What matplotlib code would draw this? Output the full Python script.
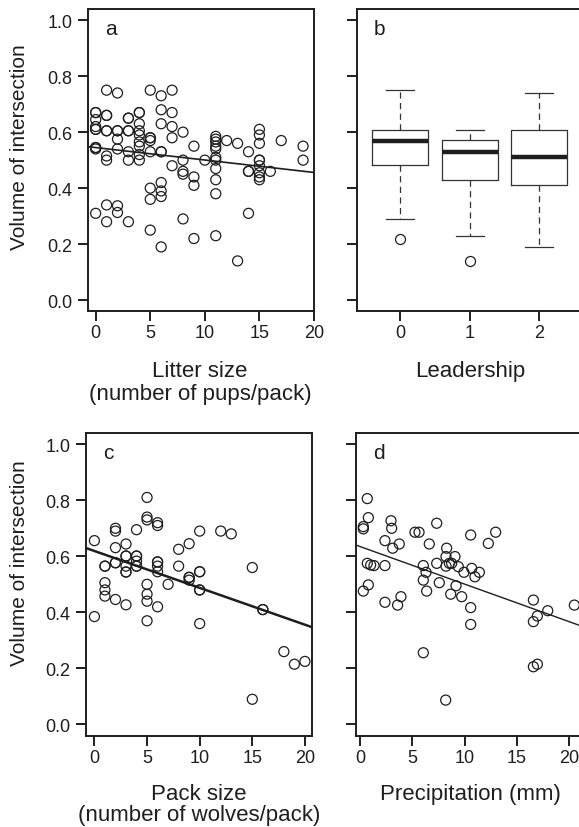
import matplotlib
matplotlib.use('Agg')
import matplotlib.pyplot as plt

plt.rcParams['font.family'] = ['Liberation Sans', 'DejaVu Sans']

# panel a: litter size vs volume of intersection
litter_x = [0, 0, 0, 0, 0, 0, 0, 0, 0, 0,
            1, 1, 1, 1, 1, 1, 1, 1, 1,
            2, 2, 2, 2, 2, 2, 2,
            3, 3, 3, 3, 3, 3, 3,
            4, 4, 4, 4, 4, 4, 4, 4, 4,
            5, 5, 5, 5, 5, 5, 5, 5,
            6, 6, 6, 6, 6, 6, 6, 6, 6,
            7, 7, 7, 7, 7,
            8, 8, 8, 8, 8,
            9, 9, 9, 9,
            10,
            11, 11, 11, 11, 11, 11, 11, 11, 11, 11, 11,
            12,
            13, 13,
            14, 14, 14, 14,
            15, 15, 15, 15, 15, 15, 15, 15, 15,
            16, 17, 19, 19]
litter_y = [0.67, 0.67, 0.645, 0.62, 0.61, 0.61, 0.545, 0.545, 0.54, 0.31,
            0.75, 0.66, 0.66, 0.605, 0.605, 0.515, 0.50, 0.34, 0.28,
            0.74, 0.605, 0.605, 0.575, 0.54, 0.337, 0.313,
            0.65, 0.65, 0.605, 0.605, 0.53, 0.50, 0.28,
            0.67, 0.67, 0.63, 0.605, 0.59, 0.565, 0.55, 0.52, 0.50,
            0.75, 0.58, 0.58, 0.57, 0.53, 0.40, 0.36, 0.25,
            0.73, 0.68, 0.63, 0.53, 0.53, 0.42, 0.39, 0.37, 0.19,
            0.75, 0.67, 0.62, 0.58, 0.48,
            0.60, 0.50, 0.46, 0.45, 0.29,
            0.55, 0.44, 0.41, 0.22,
            0.50,
            0.585, 0.575, 0.565, 0.55, 0.54, 0.51, 0.50, 0.47, 0.43, 0.38, 0.23,
            0.57,
            0.56, 0.14,
            0.53, 0.46, 0.46, 0.31,
            0.61, 0.59, 0.56, 0.50, 0.50, 0.48, 0.455, 0.44, 0.43,
            0.46, 0.57, 0.55, 0.50]
litter_fit = (0.545, -0.00445)

# panel b: leadership boxplots
lead_labels = ['0', '1', '2']
lead_whislo = [0.289, 0.229, 0.189]
lead_q1 = [0.482, 0.429, 0.411]
lead_med = [0.569, 0.530, 0.511]
lead_q3 = [0.608, 0.573, 0.608]
lead_whishi = [0.749, 0.608, 0.739]
lead_fliers = [[0.220], [0.140], []]

# panel c: pack size
pack_x = [0, 0,
          1, 1, 1, 1, 1,
          2, 2, 2, 2, 2, 2,
          3, 3, 3, 3, 3, 3, 3,
          4, 4, 4, 4, 4, 4,
          5, 5, 5, 5, 5, 5, 5,
          6, 6, 6, 6, 6, 6, 6,
          7, 8, 8,
          9, 9, 9, 9,
          10, 10, 10, 10, 10, 10,
          12, 13, 15, 15, 16, 16, 18, 19, 20]
pack_y = [0.656, 0.385,
          0.565, 0.565, 0.506, 0.48, 0.458,
          0.70, 0.69, 0.631, 0.577, 0.577, 0.446,
          0.644, 0.601, 0.601, 0.565, 0.544, 0.544, 0.427,
          0.695, 0.601, 0.601, 0.583, 0.565, 0.565,
          0.81, 0.74, 0.73, 0.50, 0.465, 0.44, 0.37,
          0.72, 0.71, 0.58, 0.58, 0.565, 0.545, 0.42,
          0.50, 0.625, 0.565,
          0.645, 0.525, 0.525, 0.515,
          0.69, 0.545, 0.545, 0.48, 0.48, 0.36,
          0.69, 0.68, 0.56, 0.09, 0.41, 0.41, 0.26, 0.215, 0.225]
pack_fit = (0.619, -0.01315)

# panel d: precipitation
prec_x = [0.70, 0.80, 0.32, 0.32, 2.39, 2.97, 3.03, 3.13, 3.76, 0.70,
          1.02, 1.34, 2.39, 0.80, 0.32, 2.39, 3.60, 3.92, 5.26, 5.65,
          6.63, 7.34, 6.06, 6.32, 6.06, 6.38, 6.06, 7.34, 7.59, 8.29,
          8.23, 9.09, 8.55, 8.23, 8.77, 9.41, 8.68, 9.19, 9.73, 10.59,
          9.95, 10.69, 11.42, 11.00, 10.59, 10.59, 12.28, 12.98, 8.20, 16.59,
          16.97, 16.59, 17.96, 20.51, 16.59, 16.97]
prec_y = [0.806, 0.738, 0.706, 0.698, 0.656, 0.727, 0.700, 0.629, 0.644, 0.575,
          0.569, 0.567, 0.567, 0.498, 0.476, 0.436, 0.426, 0.456, 0.686, 0.686,
          0.644, 0.718, 0.567, 0.543, 0.515, 0.476, 0.256, 0.575, 0.506, 0.629,
          0.599, 0.599, 0.575, 0.565, 0.575, 0.563, 0.465, 0.495, 0.456, 0.676,
          0.543, 0.557, 0.543, 0.527, 0.417, 0.357, 0.646, 0.686, 0.087, 0.444,
          0.387, 0.367, 0.406, 0.426, 0.206, 0.215]
prec_fit = (0.635, -0.0134)

W, H = 579, 828
INK = '#1e1e1e'
fig = plt.figure(figsize=(W / 100, H / 100), dpi=100)


def add_axes(l, t, r, b):
    return fig.add_axes([l / W, 1 - b / H, (r - l) / W, (b - t) / H])


def style(ax, letter, ylabels):
    for s in ax.spines.values():
        s.set_linewidth(1.4)
        s.set_color(INK)
    ax.tick_params(direction='out', length=7, width=1.4, color=INK,
                   labelsize=13, labelcolor=INK)
    ax.tick_params(axis='x', pad=2.5)
    ax.tick_params(axis='y', pad=4)
    ax.set_ylim(-0.04, 1.04)
    ax.set_yticks([0, 0.2, 0.4, 0.6, 0.8, 1.0])
    if ylabels:
        ax.set_yticklabels(['0.0', '0.2', '0.4', '0.6', '0.8', '1.0'])
    else:
        ax.set_yticklabels([])
    ax.text(0.075, 0.935, letter, transform=ax.transAxes, fontsize=15,
            ha='left', va='center', color=INK)


def scatter(ax, x, y, fit, lw):
    ax.scatter(x, y, s=52, facecolors='none', edgecolors=INK, linewidths=0.9,
               zorder=3)
    ax.axline((0, fit[0]), slope=fit[1], color=INK, lw=lw, zorder=2)


def ftext(x, y, s, **kw):
    fig.text(x / W, 1 - y / H, s, fontsize=16, color=INK, ha='center',
             va='baseline', **kw)


# a
ax = add_axes(87.7, 10, 314, 312.3)
scatter(ax, litter_x, litter_y, litter_fit, 1.2)
ax.set_xlim(-0.73, 20.0)
ax.set_xticks([0, 5, 10, 15, 20])
style(ax, 'a', True)

# b
ax = add_axes(356.7, 10, 582.6, 312.3)
stats = []
for i in range(len(lead_labels)):
    stats.append(dict(whislo=lead_whislo[i], q1=lead_q1[i], med=lead_med[i],
                      q3=lead_q3[i], whishi=lead_whishi[i],
                      fliers=lead_fliers[i]))
ax.bxp(stats, positions=[1, 2, 3], widths=0.8, capwidths=0.4,
       boxprops=dict(color='#333333', lw=0.9),
       medianprops=dict(color=INK, lw=3.2, solid_capstyle='butt'),
       whiskerprops=dict(color='#333333', lw=0.9, linestyle=(0, (5, 3.5))),
       capprops=dict(color='#333333', lw=0.9),
       flierprops=dict(marker='o', markersize=7.2, markerfacecolor='none',
                       markeredgecolor=INK, markeredgewidth=0.9))
ax.set_xlim(0.38, 3.62)
ax.set_xticks([1, 2, 3])
ax.set_xticklabels(lead_labels)
style(ax, 'b', False)

# c
ax = add_axes(86, 434, 312.3, 736.7)
scatter(ax, pack_x, pack_y, pack_fit, 1.8)
ax.set_xlim(-0.8, 20.7)
ax.set_xticks([0, 5, 10, 15, 20])
style(ax, 'c', True)

# d
ax = add_axes(356, 434, 582, 736.7)
scatter(ax, prec_x, prec_y, prec_fit, 1.0)
ax.set_xlim(-0.38, 21.24)
ax.set_xticks([0, 5, 10, 15, 20])
style(ax, 'd', False)

# axis titles
fig.text(20 / W, 1 - 147 / H, 'Volume of intersection', rotation=90,
         fontsize=15, color=INK, ha='center', va='center')
fig.text(20 / W, 1 - 563 / H, 'Volume of intersection', rotation=90,
         fontsize=15, color=INK, ha='center', va='center')
ftext(200, 376.7, 'Litter size')
ftext(200, 400, '(number of pups/pack)')
ftext(470, 376.7, 'Leadership')
ftext(199, 800, 'Pack size')
ftext(199, 821, '(number of wolves/pack)')
ftext(470, 800, 'Precipitation (mm)')

fig.savefig('out.png', dpi=100, facecolor='white')
